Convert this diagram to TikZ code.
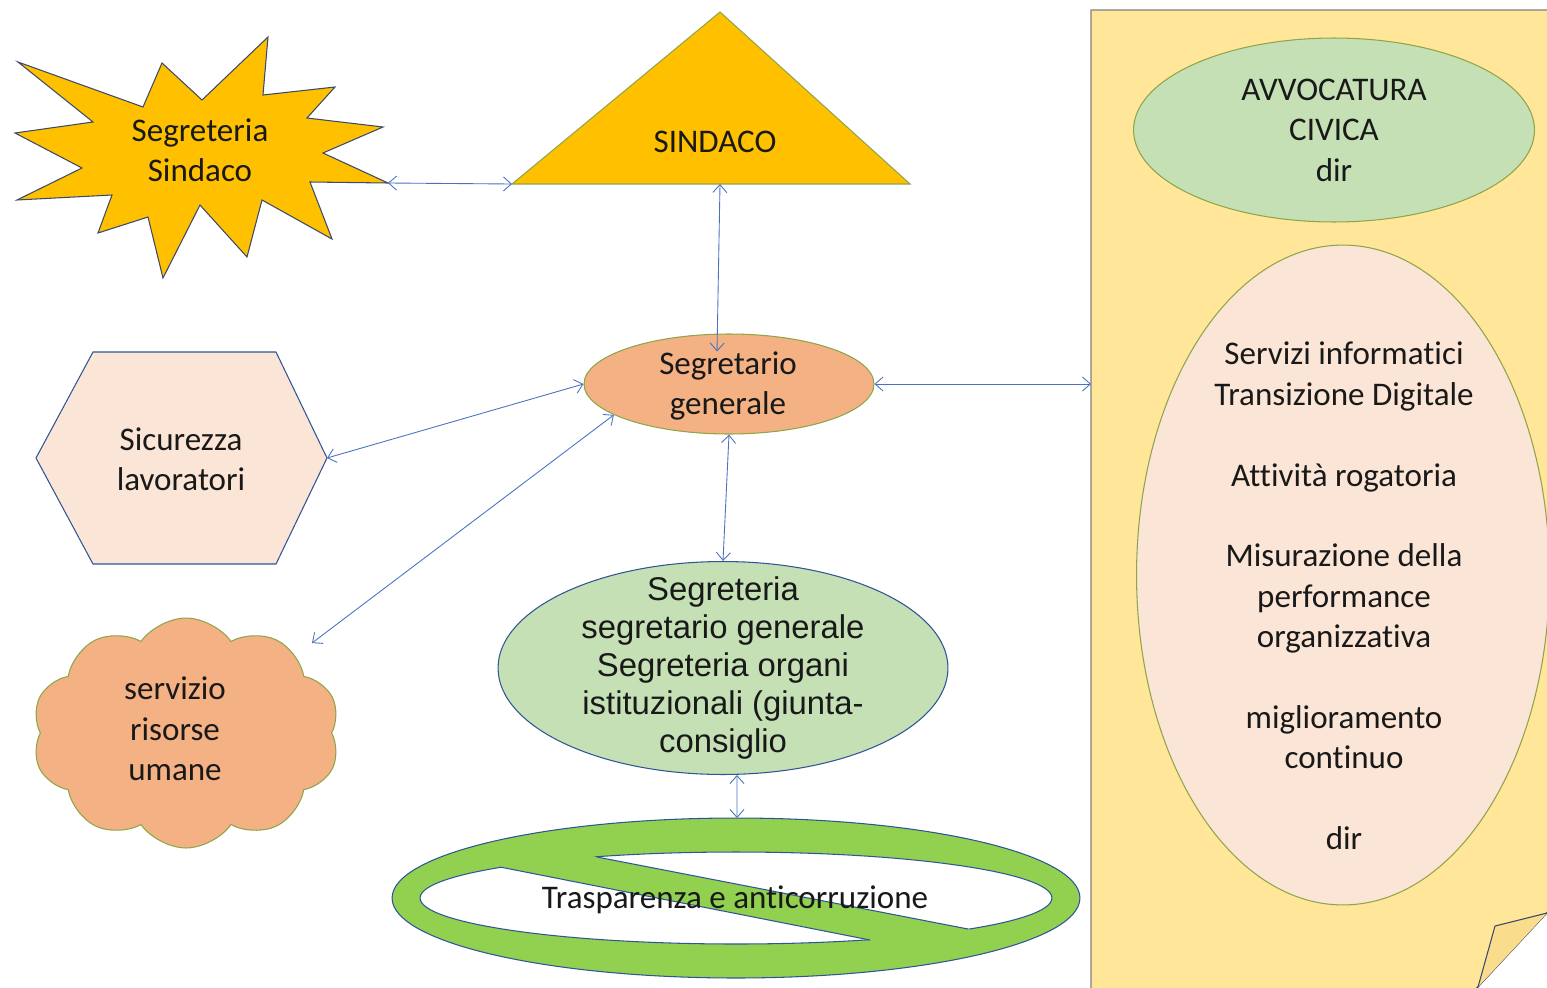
\documentclass[tikz,border=0pt]{standalone}
\usepackage{fontspec}
\setmainfont{Carlito}[Ligatures=NoCommon]
\newfontfamily\arialfont{Liberation Sans}
\usetikzlibrary{arrows.meta,shapes.symbols,shapes.geometric}
\definecolor{gold}{HTML}{FFC000}
\definecolor{peach}{HTML}{F4B183}
\definecolor{blush}{HTML}{FBE5D6}
\definecolor{sage}{HTML}{C5E0B4}
\definecolor{lime}{HTML}{92D050}
\definecolor{paper}{HTML}{FFE699}
\definecolor{fold}{HTML}{FADD8C}
\definecolor{edgeblue}{HTML}{2F5597}
\definecolor{edgeolive}{HTML}{8FA54A}
\definecolor{linkblue}{HTML}{4A72C0}
\definecolor{slate}{HTML}{3B4A6B}

\begin{document}
\begin{tikzpicture}[x=0.02cm, y=-0.02cm,
    lbl/.style={font=\fontsize{18.8}{23}\selectfont, align=center, inner sep=0pt, text=black!90},
    albl/.style={font=\arialfont\fontsize{18.7}{21.5}\selectfont, align=center, inner sep=0pt, text=black!90},
    blob/.style={ellipse, inner sep=0pt, line width=0.6pt},
    link/.style={draw=linkblue, line width=0.5pt, {Straight Barb[length=4.5pt,width=8pt]}-{Straight Barb[length=4.5pt,width=8pt]}}]

    \useasboundingbox (0,0) rectangle (1547,987);

    % note on the right
    \filldraw[fill=paper, draw=gray, line width=0.8pt] (1091,10) -- (1570,10) -- (1570,888) -- (1475,990) -- (1091,990) -- cycle;
    \draw[slate, line width=0.6pt] (1475,990) -- (1570,888);
    \filldraw[fill=fold, draw=slate, line width=0.6pt] (1478,987) -- (1495,926) -- (1547,913);
    \coordinate (noteW) at (1091,384);

    \node[blob, fill=sage, draw=edgeolive, minimum width=8.02cm, minimum height=3.68cm] (avv) at (1334,130) {};
    \node[lbl] (avvtxt) at (avv) {AVVOCATURA\\CIVICA\\dir};

    \node[blob, fill=blush, draw=edgeolive, minimum width=8.26cm, minimum height=13.2cm] (serv) at (1343,575) {};
    \node[lbl] (servtxt) at (1344,596) {Servizi informatici\\Transizione Digitale\\[23pt]Attività rogatoria\\[23pt]Misurazione della\\performance\\organizzativa\\[23pt]miglioramento\\continuo\\[23pt]dir};

    % starburst
    \filldraw[fill=gold, draw=slate, line width=0.6pt] (18,62) -- (143,107) -- (162,63) -- (202,100) -- (268,37) -- (263,95) -- (335,87) -- (307,118) -- (383,127) -- (323,153) -- (388,183) -- (310,182) -- (332,239) -- (262,200) -- (247,257) -- (200,205) -- (163,278) -- (148,217) -- (98,233) -- (112,195) -- (17,200) -- (82,168) -- (15,133) -- (93,122) -- cycle;
    \coordinate (sbE) at (388,183);
    \node[lbl] (segsind) at (200,150) {Segreteria\\Sindaco};

    % triangle
    \filldraw[fill=gold, draw=edgeolive, line width=0.6pt] (720,12) -- (910,184) -- (512,184) -- cycle;
    \coordinate (sdW) at (512,184);
    \coordinate (sdS) at (720,184);
    \node[lbl] (sindaco) at (715,142) {SINDACO};

    \node[blob, fill=peach, draw=edgeolive, minimum width=5.8cm, minimum height=2cm] (segr) at (729,384) {};
    \node[lbl] (segrtxt) at (728,386) {Segretario\\generale};

    % hexagon
    \filldraw[fill=blush, draw=edgeblue, line width=0.6pt] (36,458) -- (93,352) -- (276,352) -- (327,458) -- (276,564) -- (93,564) -- cycle;
    \coordinate (hexE) at (327,458);
    \node[lbl] (sicur) at (181,459) {Sicurezza\\lavoratori};

    \node[cloud, cloud puffs=10, cloud puff arc=110, aspect=1.3, fill=peach, draw=edgeolive, line width=0.6pt, minimum width=6.16cm, minimum height=4.6cm, inner sep=0pt] (hrcloud) at (186,733) {};
    \node[lbl] (hrtxt) at (175,729) {servizio\\risorse\\umane};
    \coordinate (hrNE) at (312,643);

    \node[blob, fill=sage, draw=edgeblue, minimum width=9cm, minimum height=4.26cm] (green) at (723,668) {};
    \node[albl] (greentxt) at (723,668) {Segreteria\\segretario generale\\Segreteria organi\\istituzionali (giunta-\\consiglio};

    % no symbol
    \filldraw[fill=lime, draw=edgeblue, line width=0.6pt] (736,898) ellipse [x radius=6.88cm, y radius=1.6cm];
    \begin{scope}
        \clip (226,785) -- (1339,1001) -- (1339,700) -- (226,700) -- cycle;
        \filldraw[fill=white, draw=edgeblue, line width=0.6pt] (736,898) ellipse [x radius=6.32cm, y radius=0.92cm];
    \end{scope}
    \begin{scope}
        \clip (130,794) -- (1240,1013) -- (1240,1100) -- (130,1100) -- cycle;
        \filldraw[fill=white, draw=edgeblue, line width=0.6pt] (736,898) ellipse [x radius=6.32cm, y radius=0.92cm];
    \end{scope}
    \draw[edgeblue, line width=0.6pt] (597,857) -- (968,929);
    \draw[edgeblue, line width=0.6pt] (500,867) -- (870,940);
    \coordinate (nsN) at (737,818);
    \node[lbl] (trasp) at (735,900) {Trasparenza e anticorruzione};

    \draw[link] (sbE) -- (sdW);
    \draw[link] (sdS) -- ([xshift=-0.24cm,yshift=-0.36cm]segr.north);
    \draw[link] (segr.east) -- (noteW);
    \draw[link] (segr.south) -- (green.north);
    \draw[link] ([xshift=0.28cm]green.south) -- (nsN);
    \draw[link] (hexE) -- (segr.west);
    \draw[link] (hrNE) -- (segr.195);

\end{tikzpicture}
\end{document}
